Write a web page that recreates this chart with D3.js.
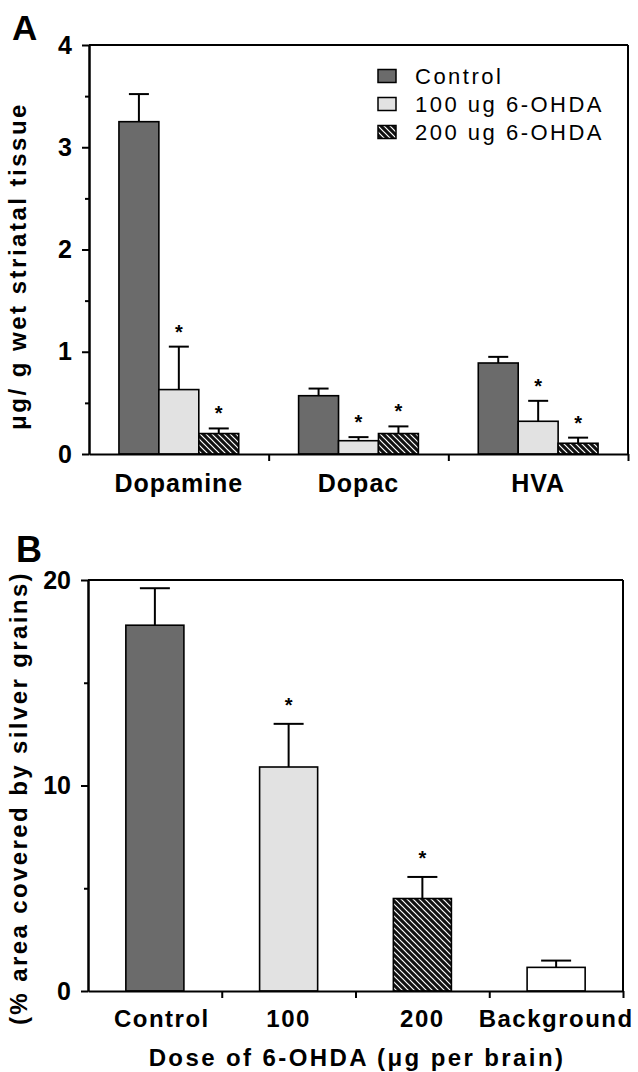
<!DOCTYPE html>
<html>
<head>
<meta charset="utf-8">
<script src="https://cdn.jsdelivr.net/npm/d3@7"></script>
<style>
  body { margin: 0; background: #fff; }
  svg { display: block; font-family: "Liberation Sans", Arial, Helvetica, sans-serif; }
</style>
</head>
<body>
<div id="canvas"></div>
<script>
// Panel A: monoamine levels
const categoriesA = ["Dopamine", "Dopac", "HVA"];
const seriesA = ["Control", "100 ug 6-OHDA", "200 ug 6-OHDA"];
const controlA = [3.25, 0.57, 0.89];
const controlErrA = [0.27, 0.07, 0.06];
const dose100A = [0.63, 0.13, 0.32];
const dose100ErrA = [0.42, 0.035, 0.2];
const dose200A = [0.2, 0.2, 0.105];
const dose200ErrA = [0.05, 0.07, 0.055];
const starsA = [[false, false, false], [true, true, true], [true, true, true]];
const ticksA = [0, 1, 2, 3, 4];
const minorTicksA = [0.5, 1.5, 2.5, 3.5];

// Panel B: silver grain area
const categoriesB = ["Control", "100", "200", "Background"];
const valuesB = [17.8, 10.9, 4.5, 1.15];
const errB = [1.8, 2.1, 1.05, 0.33];
const starsB = [false, true, true, false];
const ticksB = [0, 10, 20];
const minorTicksB = [5, 15];

const width = 638, height = 1072;
const svg = d3.select("#canvas").append("svg")
    .attr("width", width)
    .attr("height", height);

const defs = svg.append("defs");
const pat = defs.append("pattern")
    .attr("id", "hatch")
    .attr("patternUnits", "userSpaceOnUse")
    .attr("width", 6).attr("height", 6);
pat.append("rect").attr("width", 6).attr("height", 6).attr("fill", "#111");
pat.append("path")
    .attr("d", "M0,0 L6,6 M-1,5 L1,7 M5,-1 L7,1")
    .attr("stroke", "#fff").attr("stroke-width", 1.2);

const fills = ["#6b6b6b", "#e2e2e2", "url(#hatch)"];

function styleAxis(g, size) {
    g.select(".domain").attr("stroke", "#000").attr("stroke-width", 2);
    g.selectAll(".tick line").attr("stroke", "#000").attr("stroke-width", 2);
    g.selectAll(".tick text")
        .attr("fill", "#000")
        .style("font-size", size + "px")
        .style("font-weight", "bold");
}

// ---------- Panel A ----------
{
    const left = 89, right = 628, top = 45, bottom = 454;

    const y = d3.scaleLinear().domain([0, 4]).range([bottom, top]);
    const x0 = d3.scaleBand().domain(categoriesA).range([left, right]).padding(0);
    const x1 = d3.scaleBand().domain(seriesA).range([0, x0.bandwidth()])
        .paddingInner(0).paddingOuter(0.75);
    const xb = d3.scaleLinear().domain([0, categoriesA.length]).range([left, right]);

    const means = [controlA, dose100A, dose200A];
    const errs = [controlErrA, dose100ErrA, dose200ErrA];
    const rows = [];
    seriesA.forEach((s, si) => {
        categoriesA.forEach((c, ci) => {
            rows.push({ s, si, c, v: means[si][ci], e: errs[si][ci], star: starsA[si][ci] });
        });
    });

    const g = svg.append("g");

    // error bars (upper only)
    const capW = 20;
    rows.forEach(d => {
        const cx = x0(d.c) + x1(d.s) + x1.bandwidth() / 2;
        g.append("line")
            .attr("x1", cx).attr("x2", cx)
            .attr("y1", y(d.v)).attr("y2", y(d.v + d.e))
            .attr("stroke", "#000").attr("stroke-width", 2);
        g.append("line")
            .attr("x1", cx - capW / 2).attr("x2", cx + capW / 2)
            .attr("y1", y(d.v + d.e)).attr("y2", y(d.v + d.e))
            .attr("stroke", "#000").attr("stroke-width", 2);
        if (d.star) {
            g.append("text")
                .attr("x", cx).attr("y", y(d.v + d.e) - 8)
                .attr("text-anchor", "middle")
                .style("font-size", "20px").style("font-weight", "bold")
                .text("*");
        }
    });

    g.selectAll("rect.barA").data(rows).enter().append("rect")
        .attr("class", "barA")
        .attr("x", d => x0(d.c) + x1(d.s))
        .attr("y", d => y(d.v))
        .attr("width", x1.bandwidth())
        .attr("height", d => y(0) - y(d.v))
        .attr("fill", d => fills[d.si])
        .attr("stroke", "#000").attr("stroke-width", 1.6);

    // frame
    g.append("line").attr("x1", left).attr("x2", right).attr("y1", top).attr("y2", top)
        .attr("stroke", "#000").attr("stroke-width", 2);
    g.append("line").attr("x1", right).attr("x2", right).attr("y1", top).attr("y2", bottom)
        .attr("stroke", "#000").attr("stroke-width", 2);

    // y axis
    const ya = g.append("g").attr("transform", `translate(${left},0)`)
        .call(d3.axisLeft(y).tickValues(ticksA).tickFormat(d3.format("d"))
            .tickSize(7).tickSizeOuter(0).tickPadding(10));
    styleAxis(ya, 25);
    const ym = g.append("g").attr("transform", `translate(${left},0)`)
        .call(d3.axisLeft(y).tickValues(minorTicksA).tickFormat("").tickSize(4).tickSizeOuter(0));
    styleAxis(ym, 25);

    // x axis: boundary ticks + centred labels
    const xa = g.append("g").attr("transform", `translate(0,${bottom})`)
        .call(d3.axisBottom(xb).tickValues([1, 2, 3]).tickFormat("").tickSize(7).tickSizeOuter(0));
    styleAxis(xa, 25);
    const xl = g.append("g").attr("transform", `translate(0,${bottom})`)
        .call(d3.axisBottom(x0).tickSize(0).tickPadding(20));
    xl.select(".domain").remove();
    styleAxis(xl, 25);
    xl.selectAll(".tick text").style("letter-spacing", "1px");

    // y label
    g.append("text")
        .attr("transform", "translate(26,266) rotate(-90)")
        .attr("text-anchor", "middle")
        .style("font-size", "24px").style("font-weight", "bold")
        .style("letter-spacing", "2.5px")
        .text("μg/ g wet striatal tissue");

    g.append("text").attr("x", 12).attr("y", 40)
        .style("font-size", "35px").style("font-weight", "bold").text("A");

    // legend
    const leg = g.append("g");
    seriesA.forEach((s, i) => {
        const cy = 76 + i * 28;
        leg.append("rect")
            .attr("x", 378).attr("y", cy - 6.5)
            .attr("width", 18).attr("height", 13)
            .attr("fill", fills[i]).attr("stroke", "#000").attr("stroke-width", 1.5);
        leg.append("text")
            .attr("x", 415).attr("y", cy)
            .attr("dy", "0.36em")
            .style("font-size", "22px").style("letter-spacing", "2.5px")
            .text(s);
    });
}

// ---------- Panel B ----------
{
    const left = 88, right = 623, top = 580, bottom = 991;

    const y = d3.scaleLinear().domain([0, 20]).range([bottom, top]);
    const x = d3.scaleBand().domain(categoriesB).range([left, right])
        .paddingInner(0.566).paddingOuter(0.283);
    const xb = d3.scaleLinear().domain([0, categoriesB.length]).range([left, right]);
    const fillB = ["#6b6b6b", "#e2e2e2", "url(#hatch)", "#fff"];

    const rows = categoriesB.map((c, i) => ({ c, i, v: valuesB[i], e: errB[i], star: starsB[i] }));
    const g = svg.append("g");

    const capW = 30;
    rows.forEach(d => {
        const cx = x(d.c) + x.bandwidth() / 2;
        g.append("line")
            .attr("x1", cx).attr("x2", cx)
            .attr("y1", y(d.v)).attr("y2", y(d.v + d.e))
            .attr("stroke", "#000").attr("stroke-width", 2);
        g.append("line")
            .attr("x1", cx - capW / 2).attr("x2", cx + capW / 2)
            .attr("y1", y(d.v + d.e)).attr("y2", y(d.v + d.e))
            .attr("stroke", "#000").attr("stroke-width", 2);
        if (d.star) {
            g.append("text")
                .attr("x", cx).attr("y", y(d.v + d.e) - 12)
                .attr("text-anchor", "middle")
                .style("font-size", "20px").style("font-weight", "bold")
                .text("*");
        }
    });

    g.selectAll("rect.barB").data(rows).enter().append("rect")
        .attr("class", "barB")
        .attr("x", d => x(d.c))
        .attr("y", d => y(d.v))
        .attr("width", x.bandwidth())
        .attr("height", d => y(0) - y(d.v))
        .attr("fill", d => fillB[d.i])
        .attr("stroke", "#000").attr("stroke-width", 1.6);

    g.append("line").attr("x1", left).attr("x2", right).attr("y1", top).attr("y2", top)
        .attr("stroke", "#000").attr("stroke-width", 2);
    g.append("line").attr("x1", right).attr("x2", right).attr("y1", top).attr("y2", bottom)
        .attr("stroke", "#000").attr("stroke-width", 2);

    const ya = g.append("g").attr("transform", `translate(${left},0)`)
        .call(d3.axisLeft(y).tickValues(ticksB).tickFormat(d3.format("d"))
            .tickSize(7).tickSizeOuter(0).tickPadding(10));
    styleAxis(ya, 25);
    const ym = g.append("g").attr("transform", `translate(${left},0)`)
        .call(d3.axisLeft(y).tickValues(minorTicksB).tickFormat("").tickSize(4).tickSizeOuter(0));
    styleAxis(ym, 25);

    const xa = g.append("g").attr("transform", `translate(0,${bottom})`)
        .call(d3.axisBottom(xb).tickValues([1, 2, 3, 4]).tickFormat("").tickSize(7).tickSizeOuter(0));
    styleAxis(xa, 25);
    const xl = g.append("g").attr("transform", `translate(0,${bottom})`)
        .call(d3.axisBottom(x).tickSize(0).tickPadding(19));
    xl.select(".domain").remove();
    styleAxis(xl, 24);
    xl.selectAll(".tick text").style("letter-spacing", "1.5px");
    // the first label sits a little right of its bar in the original
    xl.selectAll(".tick text").filter(d => d === "Control").attr("dx", 7);

    g.append("text")
        .attr("x", 357).attr("y", 1066)
        .attr("text-anchor", "middle")
        .style("font-size", "24px").style("font-weight", "bold")
        .style("letter-spacing", "2.4px")
        .text("Dose of 6-OHDA (μg per brain)");

    g.append("text")
        .attr("transform", "translate(27,798) rotate(-90)")
        .attr("text-anchor", "middle")
        .style("font-size", "24px").style("font-weight", "bold")
        .style("letter-spacing", "2.4px")
        .text("(% area covered by silver grains)");

    g.append("text").attr("x", 16).attr("y", 562)
        .style("font-size", "36px").style("font-weight", "bold").text("B");
}
</script>
</body>
</html>
